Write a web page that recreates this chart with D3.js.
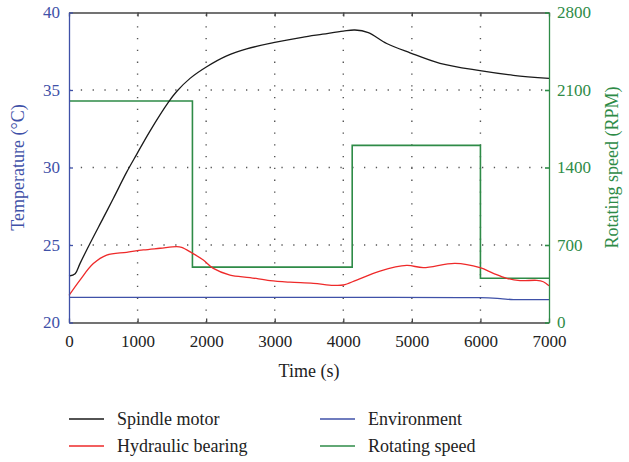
<!DOCTYPE html>
<html>
<head>
<meta charset="utf-8">
<script src="https://cdn.jsdelivr.net/npm/d3@7"></script>
<style>
  body { margin: 0; background: #fff; }
  svg { font-family: "Liberation Serif", "DejaVu Serif", serif; }
</style>
</head>
<body>
<div id="chart"></div>
<script>
// Time axis ticks (s)
const timeTicks = [0, 1000, 2000, 3000, 4000, 5000, 6000, 7000];
const tempTicks = [20, 25, 30, 35, 40];
const speedTicks = [0, 700, 1400, 2100, 2800];

// Spindle motor temperature [time, degC]
const spindleMotor = [
    [0, 23.0], [90, 23.15], [160, 23.8], [306, 25.1], [500, 26.75], [646, 28.0],
    [841, 29.7], [987, 30.85], [1181, 32.35], [1448, 34.2], [1570, 34.9],
    [1765, 35.75], [2008, 36.5], [2300, 37.2], [2591, 37.65], [2980, 38.05],
    [3400, 38.4], [3700, 38.6], [4000, 38.8], [4170, 38.87], [4365, 38.7],
    [4633, 38.0], [4973, 37.4], [5410, 36.72], [5994, 36.25], [6480, 35.95],
    [7000, 35.75]
];

// Hydraulic bearing temperature [time, degC]
const hydraulicBearing = [
    [0, 21.75], [160, 22.74], [355, 23.8], [549, 24.35], [841, 24.53],
    [1084, 24.68], [1327, 24.79], [1570, 24.9], [1643, 24.85], [1789, 24.5],
    [1959, 24.03], [2105, 23.49], [2348, 23.06], [2640, 22.9], [2931, 22.7],
    [3223, 22.6], [3563, 22.53], [3855, 22.4], [4000, 22.42], [4195, 22.74],
    [4535, 23.32], [4925, 23.68], [5167, 23.54], [5629, 23.82], [5994, 23.54],
    [6188, 23.17], [6383, 22.85], [6577, 22.7], [6820, 22.72], [6917, 22.63],
    [7000, 22.37]
];

// Environment temperature [time, degC]
const environment = [
    [0, 21.62], [3000, 21.62], [5994, 21.6], [6290, 21.54], [6480, 21.48], [7000, 21.48]
];

// Rotating speed [time, RPM] (steps)
const rotatingSpeed = [
    [0, 2000], [1800, 500], [4130, 1600], [6000, 400], [7000, 400]
];

const legendItems = [
    {name: "Spindle motor", color: "#1a1a1a"},
    {name: "Environment", color: "#3f51a8"},
    {name: "Hydraulic bearing", color: "#ee2a2a"},
    {name: "Rotating speed", color: "#2e8b47"}
];

function drawChart() {
    const W = 629, H = 462;
    const left = 69, top = 12.5, w = 480, h = 310;
    const blue = "#3f51a8", green = "#2e8b47", dark = "#444";

    const svg = d3.select("#chart").append("svg")
        .attr("width", W)
        .attr("height", H);

    const xScale = d3.scaleLinear().domain([0, 7000]).range([left, left + w]);
    const yScale = d3.scaleLinear().domain([20, 40]).range([top + h, top]);
    const ySpeed = d3.scaleLinear().domain([0, 2800]).range([top + h, top]);

    // dotted grid
    const grid = svg.append("g")
        .attr("stroke", "#555")
        .attr("stroke-width", 1.4)
        .attr("stroke-dasharray", "1.3,10.5");
    grid.selectAll(".gx")
        .data(timeTicks.slice(1, -1))
        .enter()
        .append("line")
        .attr("x1", d => xScale(d)).attr("x2", d => xScale(d))
        .attr("y1", top + h).attr("y2", top);
    grid.selectAll(".gy")
        .data(tempTicks.slice(1, -1))
        .enter()
        .append("line")
        .attr("x1", left).attr("x2", left + w)
        .attr("y1", d => yScale(d)).attr("y2", d => yScale(d));

    const line = d3.line()
        .x(d => xScale(d[0]))
        .y(d => yScale(d[1]))
        .curve(d3.curveCatmullRom);

    // speed step line
    svg.append("path")
        .datum(rotatingSpeed)
        .attr("fill", "none")
        .attr("stroke", green)
        .attr("stroke-width", 1.6)
        .attr("d", d3.line()
            .x(d => xScale(d[0]))
            .y(d => ySpeed(d[1]))
            .curve(d3.curveStepAfter));

    svg.append("path")
        .datum(environment)
        .attr("fill", "none")
        .attr("stroke", blue)
        .attr("stroke-width", 1.3)
        .attr("d", line);

    svg.append("path")
        .datum(hydraulicBearing)
        .attr("fill", "none")
        .attr("stroke", "#ee2a2a")
        .attr("stroke-width", 1.3)
        .attr("d", line);

    svg.append("path")
        .datum(spindleMotor)
        .attr("fill", "none")
        .attr("stroke", "#1a1a1a")
        .attr("stroke-width", 1.3)
        .attr("d", line);

    const fmt = d3.format("d");

    // bottom axis
    const xAxis = svg.append("g")
        .attr("transform", "translate(0," + (top + h) + ")")
        .call(d3.axisBottom(xScale).tickValues(timeTicks).tickFormat(fmt).tickSizeInner(-4).tickSizeOuter(0).tickPadding(12));
    xAxis.select(".domain").attr("stroke", dark).attr("stroke-width", 1.5);
    xAxis.selectAll(".tick line").attr("stroke", dark).attr("stroke-width", 1.3);

    // top axis
    const xTop = svg.append("g")
        .attr("transform", "translate(0," + top + ")")
        .call(d3.axisTop(xScale).tickValues(timeTicks).tickSizeInner(-4).tickSizeOuter(0).tickFormat(""));
    xTop.select(".domain").attr("stroke", dark).attr("stroke-width", 1.5);
    xTop.selectAll(".tick line").attr("stroke", dark).attr("stroke-width", 1.3);

    // left axis
    const yAxis = svg.append("g")
        .attr("transform", "translate(" + left + ",0)")
        .call(d3.axisLeft(yScale).tickValues(tempTicks).tickFormat(fmt).tickSizeInner(-4).tickSizeOuter(0).tickPadding(9));
    yAxis.select(".domain").attr("stroke", blue).attr("stroke-width", 1.3);
    yAxis.selectAll(".tick line").attr("stroke", blue).attr("stroke-width", 1.3);

    // right axis
    const yRight = svg.append("g")
        .attr("transform", "translate(" + (left + w) + ",0)")
        .call(d3.axisRight(ySpeed).tickValues(speedTicks).tickFormat(fmt).tickSizeInner(-4).tickSizeOuter(0).tickPadding(8));
    yRight.select(".domain").attr("stroke", green).attr("stroke-width", 1.3);
    yRight.selectAll(".tick line").attr("stroke", green).attr("stroke-width", 1.6);

    [xAxis, yAxis, yRight].forEach(function(g) {
        g.attr("font-family", null).attr("font-size", null).style("font-size", "17px");
    });
    xAxis.selectAll("text").attr("fill", "#222");
    yAxis.selectAll("text").attr("fill", blue);
    yRight.selectAll("text").attr("fill", green);

    // axis titles
    svg.append("text")
        .attr("text-anchor", "middle")
        .attr("x", left + w / 2)
        .attr("y", 377)
        .attr("fill", "#222")
        .style("font-size", "18px")
        .text("Time (s)");

    svg.append("text")
        .attr("text-anchor", "middle")
        .attr("transform", "translate(24," + (top + h / 2) + ") rotate(-90)")
        .attr("fill", blue)
        .style("font-size", "18px")
        .text("Temperature (°C)");

    svg.append("text")
        .attr("text-anchor", "middle")
        .attr("transform", "translate(618," + (top + h / 2) + ") rotate(-90)")
        .attr("fill", green)
        .style("font-size", "18px")
        .text("Rotating speed (RPM)");

    // legend
    const legend = svg.append("g")
        .selectAll("g")
        .data(legendItems)
        .enter()
        .append("g")
        .attr("transform", function(d, i) {
            return `translate(${i % 2 == 0 ? 69 : 320},${i < 2 ? 419 : 446})`
        });
    legend.append("line")
        .attr("x1", 0).attr("x2", 35)
        .attr("stroke", d => d.color)
        .attr("stroke-width", 1.6);
    legend.append("text")
        .attr("x", 48)
        .attr("y", 6)
        .attr("fill", "#222")
        .style("font-size", "18px")
        .text(d => d.name);
}

drawChart();
</script>
</body>
</html>
